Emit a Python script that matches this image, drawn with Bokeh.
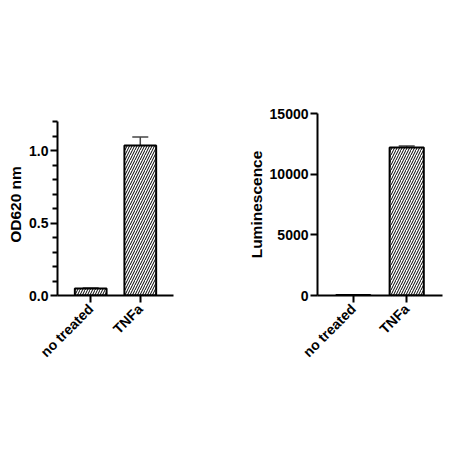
import math
from bokeh.plotting import figure
from bokeh.layouts import row
from bokeh.models import ColumnDataSource, Whisker, TeeHead, FixedTicker, Range1d, NumeralTickFormatter
from bokeh.embed import file_html
from bokeh.resources import INLINE

categories = ["no treated", "TNFa"]
od_mean = [0.048, 1.035]
od_err = [0.004, 0.058]
lum_mean = [40, 12190]
lum_err = [15, 130]

od_ticks = [0, 0.5, 1.0]
od_minor = [0.1, 0.2, 0.3, 0.4, 0.6, 0.7, 0.8, 0.9, 1.1, 1.2]
od_axis_top = 1.2
lum_ticks = [0, 5000, 10000, 15000]
lum_axis_top = 15000

FONT = "Liberation Sans"


def panel(means, errs, axis_top, range_end, yticks, yminor, yfmt, ylabel, bl, br):
    xs = list(range(len(categories)))
    src = ColumnDataSource(dict(
        x=xs, top=means,
        upper=[m + e for m, e in zip(means, errs)],
        lower=[m - e for m, e in zip(means, errs)],
    ))
    p = figure(width=226, height=450, output_backend="svg", toolbar_location=None,
               x_range=Range1d(-0.67, 1.67), y_range=Range1d(0, range_end),
               min_border_left=bl, min_border_right=br, min_border_top=113, min_border_bottom=155)
    p.outline_line_color = None
    p.xgrid.visible = False
    p.ygrid.visible = False
    p.background_fill_color = "white"
    p.border_fill_color = "white"
    p.vbar(x="x", top="top", width=0.64, bottom=0, source=src,
           fill_color="white", line_color="black", line_width=2,
           hatch_pattern="right_diagonal_line", hatch_color="black",
           hatch_scale=5, hatch_weight=1)
    w = Whisker(base="x", upper="upper", lower="lower", source=src,
                line_color="#444444", line_width=1.5,
                upper_head=TeeHead(size=16, line_color="#444444", line_width=1.5),
                lower_head=TeeHead(size=16, line_color="#444444", line_width=1.5))
    p.add_layout(w)

    for ax in (p.xaxis[0], p.yaxis[0]):
        ax.axis_line_width = 2
        ax.axis_line_color = "black"
        ax.major_tick_line_width = 2
        ax.minor_tick_line_width = 2
        ax.major_tick_in = 0
        ax.minor_tick_in = 0
        ax.major_label_text_font = FONT
        ax.major_label_text_font_style = "bold"
        ax.major_label_text_font_size = "14px"
        ax.major_label_text_color = "black"
        ax.axis_label_text_font = FONT
        ax.axis_label_text_font_style = "bold"
        ax.axis_label_text_font_size = "15.5px"
        ax.axis_label_text_color = "black"

    p.xaxis.ticker = FixedTicker(ticks=xs)
    p.xaxis.major_label_overrides = {i: c for i, c in enumerate(categories)}
    p.xaxis.major_label_orientation = math.pi / 4
    p.xaxis.major_tick_out = 7
    p.xaxis.minor_tick_out = 0
    p.xaxis.major_label_standoff = 4

    p.yaxis.bounds = (0, axis_top)
    p.yaxis.ticker = FixedTicker(ticks=yticks, minor_ticks=yminor)
    p.yaxis.formatter = NumeralTickFormatter(format=yfmt)
    p.yaxis.major_tick_out = 7
    p.yaxis.minor_tick_out = 5
    p.yaxis.major_label_standoff = 2
    p.yaxis.axis_label = ylabel
    p.yaxis.axis_label_standoff = 2
    return p


# left frame top aligned with right (113px); its axis stops at 1.2 (121px)
p1 = panel(od_mean, od_err, od_axis_top, od_axis_top * 182 / 174, od_ticks, od_minor,
           "0.0", "OD620 nm", 57, 53)
p2 = panel(lum_mean, lum_err, lum_axis_top, lum_axis_top, lum_ticks, [],
           "0", "Luminescence", 91, 10)

layout = row(p1, p2)
open("out.html", "w").write(file_html(layout, INLINE))
